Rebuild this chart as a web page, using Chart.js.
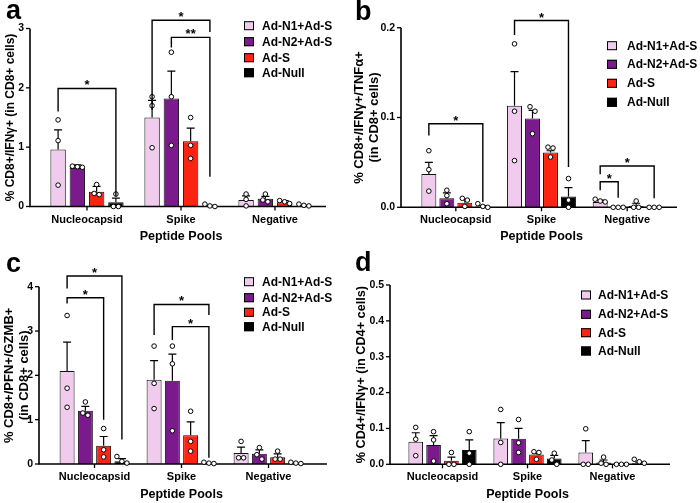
<!DOCTYPE html>
<html>
<head>
<meta charset="utf-8">
<script src="https://cdn.jsdelivr.net/npm/chart.js@4.4.1/dist/chart.umd.min.js"></script>
<style>
  html, body { margin: 0; padding: 0; background: #fff; }
  #fig { position: relative; width: 700px; height: 503px; overflow: hidden; }
  #fig canvas { position: absolute; }
</style>
</head>
<body>
<div id="fig">
  <canvas id="chartA" width="350" height="250" style="left:0;top:0"></canvas>
  <canvas id="chartB" width="350" height="250" style="left:350px;top:0"></canvas>
  <canvas id="chartC" width="350" height="253" style="left:0;top:250px"></canvas>
  <canvas id="chartD" width="350" height="253" style="left:350px;top:250px"></canvas>
</div>
<script>
const pools = ['Nucleocapsid', 'Spike', 'Negative'];
const groups = ['Ad-N1+Ad-S', 'Ad-N2+Ad-S', 'Ad-S', 'Ad-Null'];
const fills = ['#F0CBEE', '#7A1A8C', '#FF2412', '#000000'];

// a: CD8+/IFNg+
const meanA = [[0.96, 1.50, 0.11], [0.65, 1.82, 0.13], [0.25, 1.10, 0.07], [0.07, 0.01, 0.01]];
const semA = [[0.33, 0.29, 0.07], [0.05, 0.46, 0.04], [0.09, 0.22, 0.03], [0.07, 0.01, 0.01]];
const dotsA = [
  [[1.46, 1.11, 0.36], [1.85, 1.70, 0.99], [0.21, 0.12, 0.01]],
  [[0.68, 0.67, 0.66], [2.60, 1.85, 1.03], [0.21, 0.11, 0.08]],
  [[0.37, 0.22, 0.20], [1.50, 1.03, 0.81], [0.10, 0.08, 0.05]],
  [[0.21, 0.00, 0.00], [0.04, 0.01, 0.00], [0.02, 0.04, 0.01]]
];
// [pool, from, to, top, left leg end, right leg end, label]
const sigA = [
  [0, 0, 3, 1.99, 1.60, 0.17, '*'],
  [1, 0, 3, 3.14, 1.63, 2.94, '*'],
  [1, 1, 3, 2.85, 2.68, 0.50, '**']
];

// b: CD8+/IFNg+/TNFa+
const meanB = [[0.037, 0.113, 0.006], [0.010, 0.099, 0.000], [0.005, 0.061, 0.0015], [0.001, 0.012, 0.000]];
const semB = [[0.013, 0.038, 0.002], [0.006, 0.009, 0], [0.004, 0.002, 0.003], [0.001, 0.010, 0]];
const dotsB = [
  [[0.063, 0.042, 0.018], [0.182, 0.107, 0.052], [0.009, 0.007, 0.006]],
  [[0.019, 0.013, 0.004], [0.112, 0.107, 0.082], [0, 0, 0]],
  [[0.010, 0.008, 0.001], [0.067, 0.066, 0.056], [0.007, 0, 0]],
  [[0.004, 0.001, 0], [0.032, 0.008, 0], [0, 0, 0]]
];
const sigB = [
  [0, 0, 3, 0.093, 0.080, 0.006, '*'],
  [1, 0, 3, 0.208, 0.192, 0.045, '*'],
  [2, 0, 1, 0.0285, 0.019, 0.0105, '*'],
  [2, 0, 3, 0.046, 0.0367, 0.010, '*']
];

// c: CD8+/PFN+/GZMB+
const meanC = [[2.10, 1.90, 0.25], [1.20, 1.88, 0.23], [0.41, 0.65, 0.15], [0.06, 0.01, 0.01]];
const semC = [[0.65, 0.43, 0.13], [0.10, 0.60, 0.09], [0.21, 0.30, 0.08], [0.06, 0.01, 0.01]];
const dotsC = [
  [[3.35, 1.71, 1.28], [2.66, 1.82, 1.25], [0.51, 0.14, 0.14]],
  [[1.40, 1.15, 1.10], [2.66, 2.26, 0.75], [0.37, 0.21, 0.11]],
  [[0.80, 0.32, 0.16], [1.19, 0.51, 0.29], [0.29, 0.11, 0.11]],
  [[0.17, 0.06, 0.02], [0.02, 0.04, 0.01], [0.02, 0.04, 0.01]]
];
const sigC = [
  [0, 0, 3, 4.24, 3.96, 0.55, '*'],
  [0, 0, 2, 3.75, 3.62, 1.00, '*'],
  [1, 0, 3, 3.60, 2.91, 3.36, '*'],
  [1, 1, 3, 3.10, 2.80, 0.14, '*']
];

// d: CD4+/IFNg+
const meanD = [[0.063, 0.072, 0.033], [0.054, 0.071, 0.005], [0.010, 0.027, 0], [0.040, 0.016, 0.003]];
const semD = [[0.025, 0.044, 0.033], [0.026, 0.029, 0.007], [0.010, 0.004, 0], [0.028, 0.009, 0.003]];
const dotsD = [
  [[0.103, 0.070, 0.024], [0.153, 0.061, 0], [0.099, 0, 0]],
  [[0.091, 0.068, 0.009], [0.125, 0.060, 0.033], [0.020, 0.003, 0]],
  [[0.033, 0, 0], [0.035, 0.033, 0.014], [0, 0, 0]],
  [[0.091, 0.031, 0], [0.031, 0.012, 0], [0.014, 0.007, 0.003]]
];
const sigD = [];

const FONT = "'Liberation Sans', Arial, Helvetica, sans-serif";

// draws the Prism-like extras: axes, error bars, dots, brackets, legend, panel letter
const prismPlugin = {
  id: 'prism',
  afterDatasetsDraw(chart, args, o) {
    const { ctx, chartArea, scales: { x, y } } = chart;
    ctx.save();
    ctx.strokeStyle = '#000';
    ctx.fillStyle = '#000';

    // axes
    ctx.lineWidth = 1.6;
    ctx.beginPath();
    ctx.moveTo(o.axisX, chartArea.top);
    ctx.lineTo(o.axisX, chartArea.bottom);
    ctx.lineTo(o.axisEnd, chartArea.bottom);
    ctx.stroke();
    ctx.lineWidth = 1.3;
    y.ticks.forEach(t => {
      const py = y.getPixelForValue(t.value);
      ctx.beginPath();
      ctx.moveTo(o.axisX - 4, py);
      ctx.lineTo(o.axisX, py);
      ctx.stroke();
    });
    pools.forEach((p, i) => {
      const px = x.getPixelForValue(i);
      ctx.beginPath();
      ctx.moveTo(px, chartArea.bottom);
      ctx.lineTo(px, chartArea.bottom + 4);
      ctx.stroke();
    });

    // error bars (upward only)
    ctx.lineWidth = 1.2;
    chart.data.datasets.forEach((ds, i) => {
      chart.getDatasetMeta(i).data.forEach((bar, j) => {
        const e = ds.sem[j];
        if (!e) return;
        const y0 = y.getPixelForValue(ds.data[j]);
        const y1 = y.getPixelForValue(ds.data[j] + e);
        ctx.beginPath();
        ctx.moveTo(bar.x, y0);
        ctx.lineTo(bar.x, y1);
        ctx.moveTo(bar.x - 4, y1);
        ctx.lineTo(bar.x + 4, y1);
        ctx.stroke();
      });
    });

    // individual points, spread sideways when they sit close together
    ctx.lineWidth = 1;
    chart.data.datasets.forEach((ds, i) => {
      chart.getDatasetMeta(i).data.forEach((bar, j) => {
        const pts = ds.dots[j].map(v => y.getPixelForValue(v)).sort((a, b) => a - b);
        let k = 0;
        while (k < pts.length) {
          let m = k;
          while (m + 1 < pts.length && pts[m + 1] - pts[m] < 5) m++;
          const n = m - k + 1;
          for (let q = k; q <= m; q++) {
            const dx = (q - k - (n - 1) / 2) * 5;
            ctx.beginPath();
            ctx.arc(bar.x + dx, pts[q], 2.3, 0, Math.PI * 2);
            ctx.fillStyle = '#fff';
            ctx.fill();
            ctx.stroke();
          }
          k = m + 1;
        }
      });
    });

    // significance brackets
    ctx.fillStyle = '#000';
    ctx.lineWidth = 1.4;
    ctx.font = 'bold 13px ' + FONT;
    ctx.textAlign = 'center';
    ctx.textBaseline = 'alphabetic';
    o.sig.forEach(([pool, from, to, top, le, re, lab]) => {
      const xl = chart.getDatasetMeta(from).data[pool].x;
      const xr = chart.getDatasetMeta(to).data[pool].x;
      const yt = y.getPixelForValue(top);
      ctx.beginPath();
      ctx.moveTo(xl, y.getPixelForValue(le));
      ctx.lineTo(xl, yt);
      ctx.lineTo(xr, yt);
      ctx.lineTo(xr, y.getPixelForValue(re));
      ctx.stroke();
      ctx.fillText(lab, (xl + xr) / 2, yt + 1);
    });

    // legend
    ctx.textAlign = 'left';
    ctx.textBaseline = 'middle';
    ctx.font = 'bold 12px ' + FONT;
    ctx.lineWidth = 1;
    groups.forEach((g, i) => {
      const ry = o.legend.rows[i];
      ctx.fillStyle = fills[i];
      ctx.fillRect(o.legend.box, ry - 4.5, 10, 9);
      ctx.strokeRect(o.legend.box + 0.5, ry - 4, 9, 8);
      ctx.fillStyle = '#000';
      ctx.fillText(g, o.legend.text, ry + 0.5);
    });

    // panel letter
    ctx.font = 'bold 27px ' + FONT;
    ctx.textBaseline = 'alphabetic';
    ctx.fillText(o.letter[0], o.letter[1], o.letter[2]);
    ctx.restore();
  }
};

function buildPanel(id, mean, sem, dots, sig, yMax, step, dec, yTitle, L) {
  const canvas = document.getElementById(id);
  return new Chart(canvas, {
    type: 'bar',
    data: {
      labels: pools,
      datasets: groups.map((g, i) => ({
        label: g,
        data: mean[i],
        sem: sem[i],
        dots: dots[i],
        backgroundColor: fills[i],
        borderColor: '#111',
        borderWidth: 1,
        categoryPercentage: L.catPct,
        barPercentage: L.barPct
      }))
    },
    options: {
      responsive: false,
      animation: false,
      events: [],
      layout: { padding: { left: 0, top: L.top, right: L.W - L.catR, bottom: 0 } },
      plugins: {
        legend: { display: false },
        tooltip: { enabled: false },
        prism: {
          axisX: L.axisX, axisEnd: L.axisEnd, sig: sig,
          legend: L.legend, letter: L.letter
        }
      },
      scales: {
        x: {
          grid: { display: false, drawTicks: false },
          border: { display: false },
          ticks: { color: '#000', font: { family: FONT, size: 11, weight: 'bold' }, padding: 6.5, maxRotation: 0, autoSkip: false },
          title: { display: true, text: 'Peptide Pools', color: '#000', font: { family: FONT, size: 12.5, weight: 'bold' }, padding: { top: 0, bottom: L.xTitlePad } },
          afterFit: s => { s.height = L.H - L.zero; }
        },
        y: {
          min: 0,
          max: yMax,
          grid: { display: false, drawTicks: false },
          border: { display: false },
          ticks: {
            stepSize: step,
            color: '#000',
            font: { family: FONT, size: 10.5, weight: 'bold' },
            padding: L.catL - L.axisX + 6,
            callback: v => Number(v).toFixed(dec)
          },
          title: {
            display: true, text: yTitle, color: '#000',
            font: { family: FONT, size: L.yTitleSize, weight: 'bold', lineHeight: 1.1 },
            padding: { top: L.yTitlePad, bottom: 0 }
          },
          afterFit: s => { s.width = L.catL; }
        }
      }
    },
    plugins: [prismPlugin]
  });
}

buildPanel('chartA', meanA, semA, dotsA, sigA, 3, 1, 0, '% CD8+/IFNγ+ (in CD8+ cells)', {
  W: 350, H: 250, axisX: 30, axisEnd: 326, catL: 40, catR: 322, top: 28.5, zero: 206.5,
  catPct: 0.82, barPct: 0.8, yTitleSize: 12, yTitlePad: 4, xTitlePad: 5.8,
  legend: { box: 244, text: 262, rows: [25.7, 41.7, 57.7, 72.7] },
  letter: ['a', 6, 19]
});

buildPanel('chartB', meanB, semB, dotsB, sigB, 0.2, 0.1, 1, ['% CD8+/IFNγ+/TNFα+', '(in CD8+ cells)'], {
  W: 350, H: 250, axisX: 51, axisEnd: 327, catL: 63, catR: 320, top: 27.7, zero: 207.3,
  catPct: 0.84, barPct: 0.83, yTitleSize: 13, yTitlePad: 2.5, xTitlePad: 5.5,
  legend: { box: 257, text: 277, rows: [45.7, 64.3, 83.3, 102.3] },
  letter: ['b', 5, 20]
});

buildPanel('chartC', meanC, semC, dotsC, sigC, 4, 1, 0, ['% CD8+/PFN+/GZMB+', '(in CD8+ cells)'], {
  W: 350, H: 253, axisX: 39, axisEnd: 327, catL: 51, catR: 312, top: 36.7, zero: 214,
  catPct: 0.84, barPct: 0.82, yTitleSize: 13, yTitlePad: 2.5, xTitlePad: 0.5,
  legend: { box: 244, text: 262, rows: [31.7, 47.7, 62.3, 76.7] },
  letter: ['c', 6, 22]
});

buildPanel('chartD', meanD, semD, dotsD, sigD, 0.5, 0.1, 1, '% CD4+/IFNγ+ (in CD4+ cells)', {
  W: 350, H: 253, axisX: 40, axisEnd: 320, catL: 50, catR: 305, top: 35, zero: 214.3,
  catPct: 0.84, barPct: 0.82, yTitleSize: 12.7, yTitlePad: 5, xTitlePad: 0.5,
  legend: { box: 231, text: 248, rows: [45, 64.3, 82.7, 101] },
  letter: ['d', 5, 21]
});
</script>
</body>
</html>
